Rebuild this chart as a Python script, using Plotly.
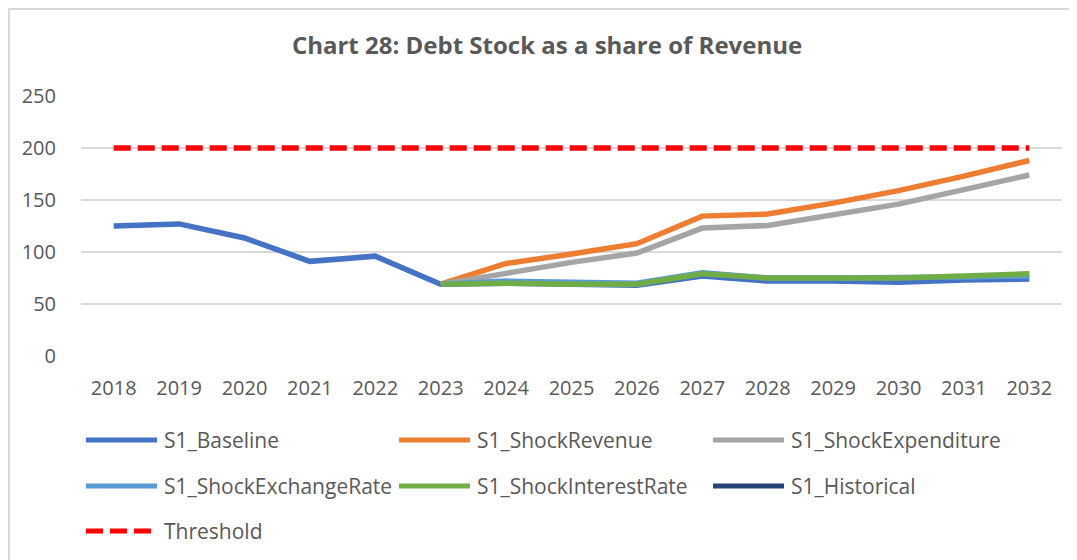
import plotly.graph_objects as go

years = list(range(2018, 2033))
series_names = ["S1_Baseline", "S1_ShockRevenue", "S1_ShockExpenditure",
                "S1_ShockExchangeRate", "S1_ShockInterestRate", "S1_Historical", "Threshold"]
baseline = [125, 127, 113.5, 91, 96, 69, 70, 69, 68, 77, 72, 72, 71, 73, 74]
shock_revenue = [None]*5 + [69, 89, 98, 108, 134.5, 136.5, 147, 159, 173, 188]
shock_expenditure = [None]*5 + [69, 80, 90, 99, 123, 125.5, 135.5, 146, 160, 174]
shock_exchange = [None]*5 + [69, 72, 71, 70, 80, 75, 75, 75, 76, 77]
shock_interest = [None]*5 + [69, 70, 69, 69, 79, 75, 75, 75, 77, 79]
historical = [None]*15
threshold = [200]*15

colors = ["#4472C4", "#ED7D31", "#A5A5A5", "#5B9BD5", "#70AD47", "#264478", "#FF0000"]
values = [baseline, shock_revenue, shock_expenditure, shock_exchange, shock_interest, historical, threshold]

TXT = "#595959"
FONT = "Open Sans"

# page offset from default body margin
OFF = 8
FW, FH = 1077 - OFF, 560 - OFF

fig = go.Figure()
for name, vals, col in zip(series_names, values, colors):
    dash = "17px,7px" if name == "Threshold" else "solid"
    fig.add_trace(go.Scatter(x=years, y=vals, name=name, mode="lines",
                             line=dict(color=col, width=5.5, dash=dash),
                             connectgaps=False, showlegend=False))

# plot-area geometry in page pixels
L, R, T, B = 81, 1062, 96, 356
W, H = R - L, B - T
def px(x):
    return (x - L) / W
def py(y):
    return (B - y) / H

shapes = []
annotations = []
# chart border (as close to page edge as the figure allows)
shapes.append(dict(type="rect", xref="paper", yref="paper",
                   x0=px(OFF + 1), x1=px(1100), y0=py(580), y1=py(OFF + 1),
                   line=dict(color="#D9D9D9", width=2), fillcolor="rgba(0,0,0,0)", layer="below"))

# manual legend (3 columns)
col_x = [86, 399, 713]
row_y = [440, 486, 531]
for i, (name, col) in enumerate(zip(series_names, colors)):
    r, c = divmod(i, 3)
    x0 = col_x[c]
    y = row_y[r]
    dash = "17px,7px" if name == "Threshold" else "solid"
    shapes.append(dict(type="line", xref="paper", yref="paper",
                       x0=px(x0), x1=px(x0 + 71), y0=py(y), y1=py(y),
                       line=dict(color=col, width=5, dash=dash)))
    annotations.append(dict(xref="paper", yref="paper", x=px(x0 + 76), y=py(y),
                            xanchor="left", yanchor="middle", text=name, showarrow=False,
                            font=dict(family=FONT, size=21, color=TXT)))

fig.update_layout(
    width=FW, height=FH,
    margin=dict(l=L - OFF, r=1077 - R, t=T - OFF, b=560 - B),
    paper_bgcolor="white", plot_bgcolor="white",
    title=dict(text="<b>Chart 28: Debt Stock as a share of Revenue</b>",
               x=px(547), xref="paper", xanchor="center",
               y=1 - (46 - OFF) / FH, yref="container", yanchor="middle",
               font=dict(family=FONT, size=24, color=TXT)),
    shapes=shapes, annotations=annotations,
    showlegend=False,
    font=dict(family=FONT, color=TXT),
)
fig.update_xaxes(range=[2017.5, 2032.5], tickvals=years, ticktext=[str(y) for y in years],
                 showgrid=False, zeroline=False, showline=False,
                 ticks="outside", ticklen=14, tickcolor="rgba(0,0,0,0)",
                 tickfont=dict(family=FONT, size=20, color=TXT))
fig.update_yaxes(range=[0, 250], tickvals=[0, 50, 100, 150, 200, 250],
                 showgrid=True, gridcolor="#D9D9D9", gridwidth=2,
                 zeroline=False, showline=False,
                 ticks="outside", ticklen=20, tickcolor="rgba(0,0,0,0)",
                 tickfont=dict(family=FONT, size=20, color=TXT))

fig.write_html("out.html")
